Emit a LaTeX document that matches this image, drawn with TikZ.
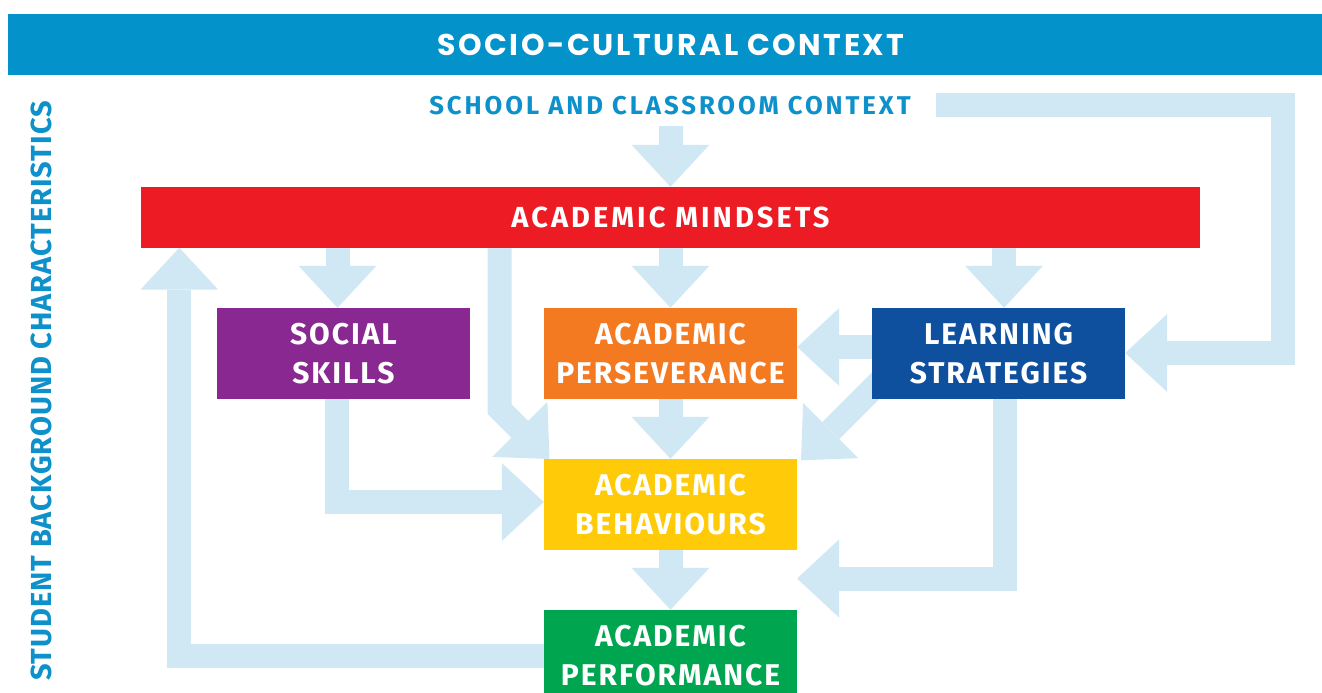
\documentclass[tikz,border=0pt]{standalone}
\usepackage{fontspec}
\setmainfont{Fira Sans}
\newfontfamily\popfont{Poppins}
\usetikzlibrary{arrows.meta,backgrounds}
\definecolor{ctxblue}{RGB}{3,146,201}
\definecolor{txtblue}{RGB}{14,145,202}
\definecolor{redc}{RGB}{237,28,36}
\definecolor{purplec}{RGB}{136,40,144}
\definecolor{orangec}{RGB}{244,122,34}
\definecolor{navyc}{RGB}{14,79,158}
\definecolor{yellowc}{RGB}{255,203,8}
\definecolor{greenc}{RGB}{0,165,80}
\definecolor{arrowc}{RGB}{208,232,243}
\tikzset{
  fat/.style={draw=arrowc, line width=24pt, line join=miter,
    -{Triangle[width=78pt 0 0,length=42pt 0 0,line width=0pt 0 0]}},
  box/.style={rectangle, inner sep=0pt, text=white, align=center,
    font=\fontsize{30}{39}\selectfont\bfseries\addfontfeature{LetterSpace=6.5},
    minimum width=253pt, minimum height=91pt},
  label/.style={inner sep=0pt, text depth=0pt},
}
\begin{document}
\begin{tikzpicture}[x=1pt,y=-1pt]
\useasboundingbox (0,0) rectangle (1322,693);
% banner
\node[fill=ctxblue, inner sep=0pt, minimum width=1314pt, minimum height=60.7pt] (ctx) at (665,44.35) {};
\node[label, text=white, font=\popfont\fontsize{30}{36}\selectfont\bfseries\addfontfeature{LetterSpace=8.5}] (ctxtext) at (671,45) {SOCIO-CULTURAL CONTEXT};
% side and school labels
\node[label, text=txtblue, font=\fontsize{25.7}{30}\selectfont\bfseries\addfontfeature{LetterSpace=11.4}] (school) at (670,105.5) {SCHOOL AND CLASSROOM CONTEXT};
\node[label, text=txtblue, rotate=90, font=\fontsize{29}{34}\selectfont\bfseries\addfontfeature{LetterSpace=3.3}] (student) at (41,391) {STUDENT BACKGROUND CHARACTERISTICS};
% boxes
\node[box, fill=redc, minimum width=1059pt, minimum height=60.5pt, font=\fontsize{29}{34}\selectfont\bfseries\addfontfeature{LetterSpace=10.5}] (mind) at (670.5,217.25) {ACADEMIC MINDSETS};
\node[box, fill=purplec] (ss) at (343.5,353.5) {SOCIAL\\SKILLS};
\node[box, fill=orangec] (per) at (670.5,353.5) {ACADEMIC\\PERSEVERANCE};
\node[box, fill=navyc] (ls) at (998.5,353.5) {LEARNING\\STRATEGIES};
\node[box, fill=yellowc] (beh) at (670.5,504.5) {ACADEMIC\\BEHAVIOURS};
\node[box, fill=greenc] (perf) at (670.5,655.5) {ACADEMIC\\PERFORMANCE};
% connector points
\coordinate (s1) at (670.5,126);
\coordinate (b1) at (499.5,409);
\coordinate (d1) at (549.5,459);
\coordinate (l1) at (890,371.3);
\coordinate (d2) at (801,460.3);
\coordinate (r1) at (936,105);
\coordinate (r2) at (1282.5,105);
\coordinate (q1) at (797,578.5);
\begin{scope}[on background layer]
\draw[fat] (s1) -- (mind.north);
\draw[fat] (mind.south -| 337.5,0) -- (ss.north -| 337.5,0);
\draw[fat] (mind.south) -- (per.north);
\draw[fat] (mind.south -| 1004,0) -- (ls.north -| 1004,0);
\draw[fat] (per.south) -- (beh.north);
\draw[fat] (beh.south) -- (perf.north);
\draw[fat] (ls.west |- 0,347) -- (per.east |- 0,347);
\draw[fat] (mind.south -| b1) -- (b1) -- (d1);
\draw[fat] (l1) -- (d2);
\draw[fat] (ss.south -| 336.7,0) |- (beh.west |- 0,502);
\draw[fat] (ls.south -| 1004.8,0) |- (q1);
\draw[fat] (r1) -- (r2) |- (ls.east |- 0,353);
\draw[fat] (perf.west) -| (mind.south -| 179.3,0);
\end{scope}
\end{tikzpicture}
\end{document}
